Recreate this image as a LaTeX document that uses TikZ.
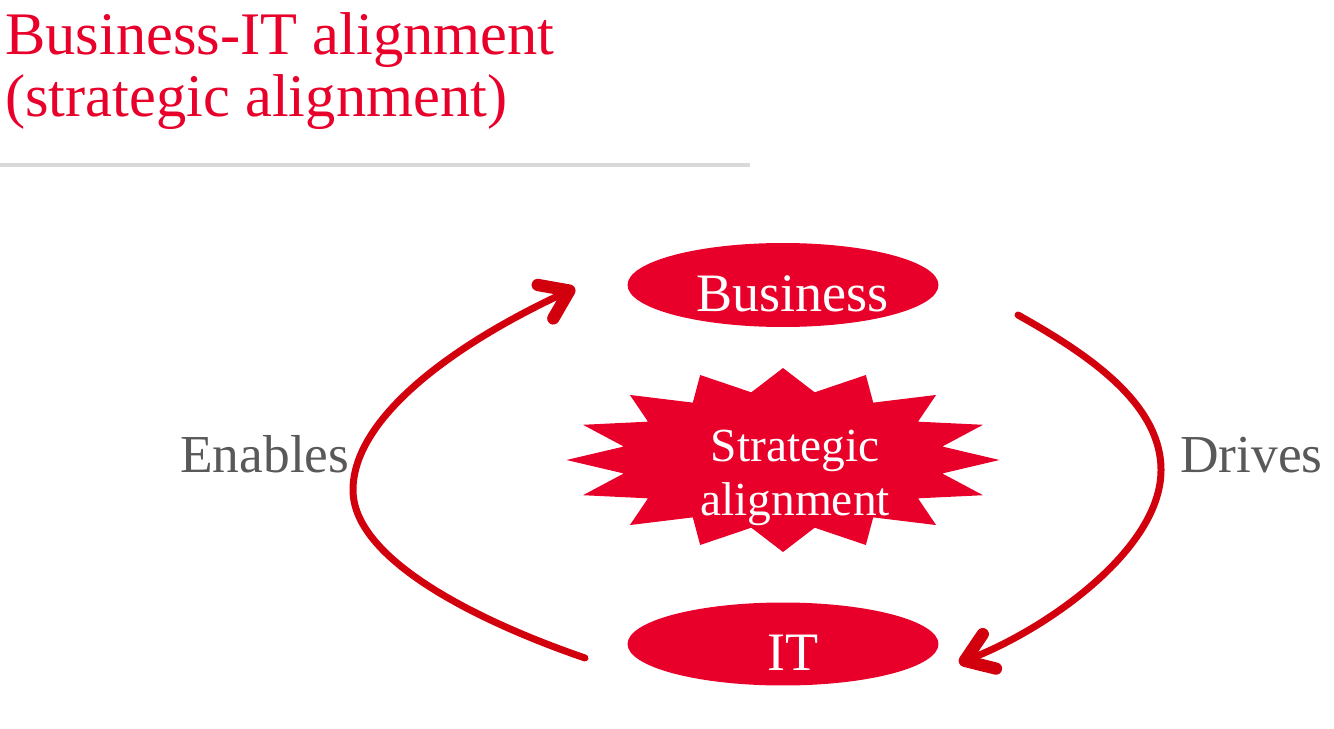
\documentclass[tikz,border=0pt]{standalone}
\usepackage{fontspec}
\setmainfont{Liberation Serif}
\usetikzlibrary{positioning}
\usetikzlibrary{shapes.geometric}
\usetikzlibrary{arrows.meta}
\tikzstyle{heading} = [anchor=base west, inner sep=0pt, text=brand, font=\fontsize{34.4}{40}\selectfont]
\tikzstyle{ellip} = [ellipse, fill=brand, text=white, minimum width=6.22cm, minimum height=1.68cm, inner sep=0pt, text height=30.6pt, text depth=0pt, font=\fontsize{30.8}{36}\selectfont]
\tikzstyle{burst} = [fill=brand]
\tikzstyle{burstText} = [text=white, align=center, inner sep=0pt, font=\fontsize{27}{31}\selectfont]
\tikzstyle{verb} = [anchor=base west, inner sep=0pt, text=words, font=\fontsize{30.4}{36}\selectfont]
\tikzstyle{swing} = [draw=arc, line width=0.14cm, line cap=round, -{Straight Barb[round, length=15pt, width=21pt, line width=7pt]}]
\definecolor{brand}{RGB}{232,0,42}
\definecolor{arc}{RGB}{210,0,12}
\definecolor{rulegray}{RGB}{217,217,217}
\definecolor{words}{RGB}{89,89,89}

\begin{document}
\begin{tikzpicture}[x=0.02cm, y=-0.02cm]
	\useasboundingbox (0,0) rectangle (1334,729);
	\node[heading] (title) at (5,55) {Business-IT alignment};
	\node[heading] (subtitle) at (5,117) {(strategic alignment)};
	\draw[rulegray, line width=0.07cm] (0,165) -- (750,165);

	\node[ellip] (business) at (783,285) {\hspace*{11pt}Business};
	\node[ellip, minimum height=1.66cm] (it) at (783,644) {\hspace*{11pt}IT};
	\fill[burst] plot[samples at={0,...,31}] ({783+216.5*(1-0.25*mod(\x,2))*cos(\x*11.25)}, {460+92*(1-0.25*mod(\x,2))*sin(\x*11.25)}) -- cycle;
	\node[burstText] (core) at (795,478) {Strategic\\alignment};

	\node[verb] (enables) at (180,472) {Enables};
	\node[verb] (drives) at (1180,472) {Drives};

	\coordinate (enablesFrom) at (585,658);
	\coordinate (enablesTo) at (575,288);
	\coordinate (drivesFrom) at (1018,315);
	\coordinate (drivesTo) at (959,663);
	\draw[swing] (enablesFrom) .. controls (480,622) and (353,560) .. (353,490) .. controls (353,420) and (448,347) .. (enablesTo);
	\draw[swing] (drivesFrom) .. controls (1080,350) and (1161,400) .. (1161,470) .. controls (1161,550) and (1045,630) .. (drivesTo);
\end{tikzpicture}
\end{document}
